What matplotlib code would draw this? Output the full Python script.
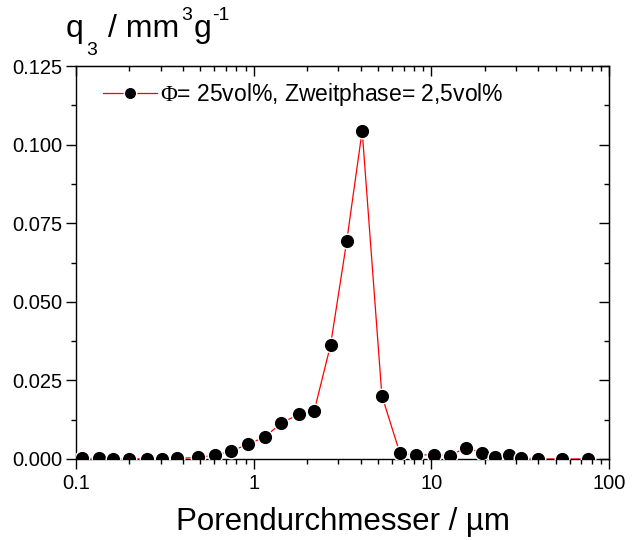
import matplotlib
matplotlib.use("Agg")
import matplotlib.pyplot as plt
from matplotlib.ticker import FixedLocator, LogLocator, NullFormatter, FuncFormatter

plt.rcParams['font.family'] = ['Liberation Sans', 'DejaVu Sans']
plt.rcParams['mathtext.fontset'] = 'custom'
plt.rcParams['mathtext.rm'] = 'Liberation Sans'
plt.rcParams['mathtext.it'] = 'Liberation Sans'
plt.rcParams['mathtext.bf'] = 'Liberation Sans:bold'
plt.rcParams['mathtext.sf'] = 'Liberation Serif'

# Data
diameter_um = [0.108, 0.135, 0.162, 0.199, 0.252, 0.305, 0.372, 0.488, 0.606, 0.745,
               0.933, 1.16, 1.43, 1.79, 2.19, 2.71, 3.34, 4.08, 5.27, 6.66,
               8.19, 10.3, 12.7, 15.7, 19.4, 22.9, 27.4, 31.8, 39.6, 54.1, 76.4]
q3 = [0.0002, 0.0002, 0.0001, 0.0001, 0.0001, 0.0000, 0.0002, 0.0005, 0.0012, 0.0025,
      0.0047, 0.0071, 0.0114, 0.0142, 0.0152, 0.0363, 0.0693, 0.1044, 0.0201, 0.0018,
      0.0013, 0.0013, 0.0011, 0.0036, 0.0019, 0.0007, 0.0013, 0.0004, 0.0000, 0.0000, 0.0000]

y_ticks = [0.0, 0.025, 0.05, 0.075, 0.1, 0.125]
y_minor = [0.0125, 0.0375, 0.0625, 0.0875, 0.1125]
x_ticks = [0.1, 1, 10, 100]
x_ticklabels = ['0.1', '1', '10', '100']
legend_label = r'$\mathsf{\Phi}$= 25vol%, Zweitphase= 2,5vol%'

W, H = 633, 540
fig = plt.figure(figsize=(W/100, H/100), dpi=100)
ax = fig.add_axes([76/W, 1-459/H, (609-76)/W, (459-66)/H])

ax.plot(diameter_um, q3, color='red', lw=0.9, marker='o', ms=10.5,
        mfc='black', mec='white', mew=1.0, label=legend_label, zorder=3)

ax.set_xscale('log')
ax.set_xlim(0.1, 100)
ax.set_ylim(0, 0.125)
ax.set_xticks(x_ticks)
ax.set_xticklabels(x_ticklabels)
ax.xaxis.set_minor_locator(LogLocator(base=10, subs=range(2, 10)))
ax.xaxis.set_minor_formatter(NullFormatter())
ax.set_yticks(y_ticks)
ax.yaxis.set_major_formatter(FuncFormatter(lambda v, p: f'{v:.3f}'))
ax.yaxis.set_minor_locator(FixedLocator(y_minor))

for s in ax.spines.values():
    s.set_linewidth(1.0)
ax.tick_params(which='major', direction='out', length=7, width=1.0, labelsize=14.5)
ax.tick_params(which='minor', direction='out', length=3.5, width=1.0)
ax.tick_params(axis='x', pad=4)
ax.tick_params(axis='y', pad=3)

top = ax.secondary_xaxis('top')
top.set_xticks(x_ticks)
top.xaxis.set_minor_locator(LogLocator(base=10, subs=range(2, 10)))
top.xaxis.set_minor_formatter(NullFormatter())
top.tick_params(which='major', direction='in', length=7, width=1.0, labeltop=False)
top.tick_params(which='minor', direction='in', length=3.5, width=1.0)

right = ax.secondary_yaxis('right')
right.set_yticks(y_ticks)
right.yaxis.set_minor_locator(FixedLocator(y_minor))
right.tick_params(which='major', direction='in', length=7, width=1.0, labelright=False)
right.tick_params(which='minor', direction='in', length=3.5, width=1.0)

ax.set_xlabel('Porendurchmesser / \u00b5m', fontsize=22.5, labelpad=10)

# y-axis title built from pieces (q_3 / mm^3 g^-1), laid out one after another
renderer = fig.canvas.get_renderer()
main_size, script_size = 23, 14
pieces = [('q', main_size, 36.7, 0), ('3', script_size, 55, 2.5),
          ('/ mm', main_size, 36.7, 11), ('3', script_size, 20, 1.5),
          ('g', main_size, 36.7, 1.5), ('-1', script_size, 20, 1)]
x = 66.0
for s, size, base_y, gap in pieces:
    x += gap
    t = fig.text(x/W, 1-base_y/H, s, fontsize=size, ha='left', va='baseline')
    bb = t.get_window_extent(renderer=renderer)
    x = bb.x1

leg = ax.legend(loc='center left', bbox_to_anchor=((103-76)/533, (459-95)/393),
                frameon=False, fontsize=16.5, handlelength=2.35, markerscale=0.85,
                borderaxespad=0, borderpad=0, handletextpad=0.15)

fig.savefig('out.png', dpi=100)
